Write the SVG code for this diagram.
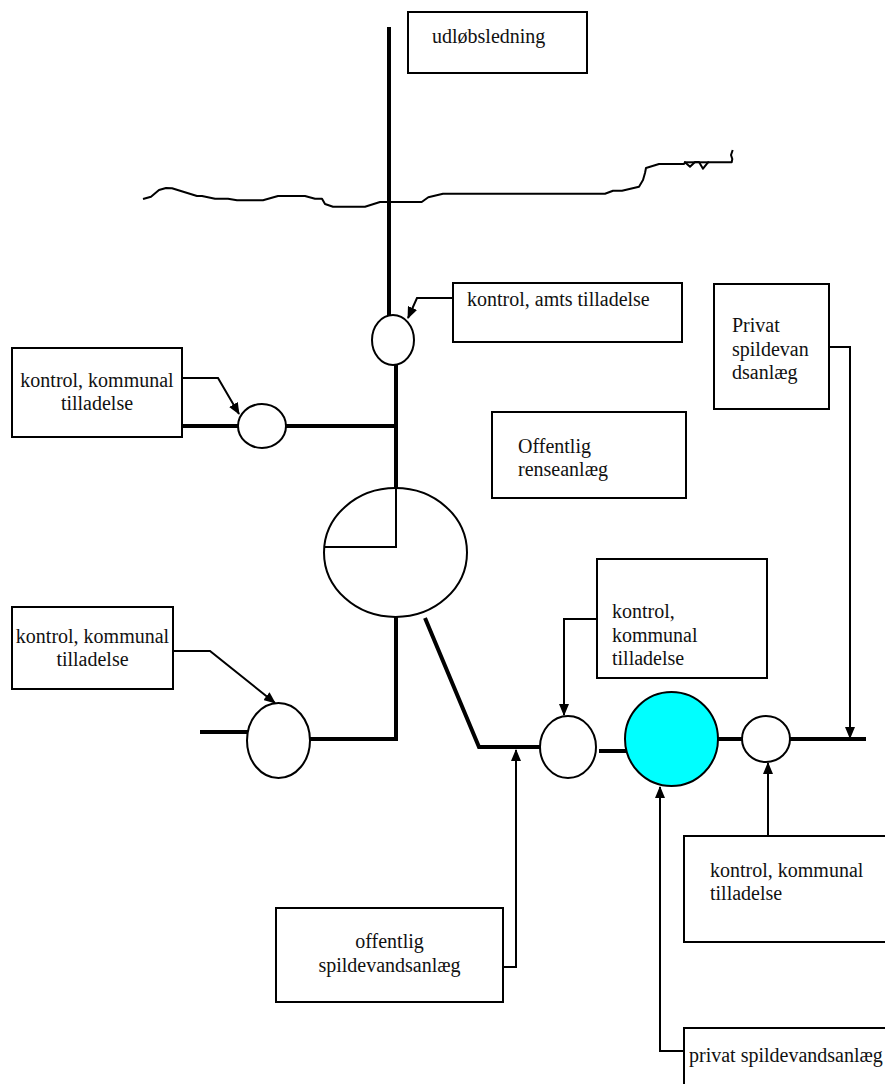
<svg xmlns="http://www.w3.org/2000/svg" width="885" height="1084" viewBox="0 0 885 1084">
<style>
.box{fill:#fff;stroke:#000;stroke-width:2}
.t{font-family:"Liberation Serif","Times New Roman",serif;font-size:20px;fill:#111}
.c{text-anchor:middle}
.pipe{fill:none;stroke:#000;stroke-width:4}
.thin{fill:none;stroke:#000;stroke-width:2}
.node{fill:#fff;stroke:#000;stroke-width:2}
.conn{fill:none;stroke:#000;stroke-width:2;marker-end:url(#ah)}
.river{fill:none;stroke:#000;stroke-width:2;stroke-linejoin:round}
</style>
<defs>
<marker id="ah" markerUnits="userSpaceOnUse" markerWidth="12" markerHeight="10" refX="11" refY="5" orient="auto">
<path d="M0,0 L12,5 L0,10 Z" fill="#000"/>
</marker>
</defs>
<rect width="885" height="1084" fill="#fff"/>

<g id="river">
<polyline class="river" points="143,199 151,196.7 159,190 166,188 172,188.3 197,196 202,196 215,198.7 228,198.7 237,200.3 263,200.3 278,196 305,196 315,198.7 322,198.7 325,204 333,206.7 365,206.7 380,202 421.7,202 428.3,197.3 443,193.7 605,193.7 613,190.7 622,190.7 639,186.7 643,180 645,173 646,168 659,164 684,164 685,162.3 690,166.7 695,162 699,162 703,168.7 708,162.3 731.7,162.3 732.3,159 731,155 732.7,150"/>
<line class="river" x1="684" y1="162.3" x2="709" y2="162.3"/>
</g>

<g id="pipes">
<line class="pipe" x1="389" y1="27" x2="389" y2="316"/>
<line class="pipe" x1="396" y1="365" x2="396" y2="489"/>
<line class="pipe" x1="182" y1="426" x2="239" y2="426"/>
<line class="pipe" x1="285" y1="426" x2="398" y2="426"/>
<polyline class="pipe" points="396,616 396,739 309,739"/>
<line class="pipe" x1="200" y1="732" x2="248" y2="732"/>
<polyline class="pipe" points="425,618 479,747 541,747"/>
<line class="pipe" x1="599" y1="751" x2="626" y2="751"/>
<line class="pipe" x1="717" y1="739" x2="745" y2="739"/>
<line class="pipe" x1="789" y1="739" x2="866" y2="739"/>
</g>

<g id="plant">
<ellipse class="node" cx="395.5" cy="552.5" rx="71.5" ry="64.5"/>
<polyline class="thin" points="396,488 396,547 324,547"/>
</g>
<g id="node-amts"><ellipse class="node" cx="393" cy="340" rx="21" ry="25"/></g>
<g id="node-left-top"><ellipse class="node" cx="262" cy="426" rx="24" ry="22"/></g>
<g id="node-left-bottom"><ellipse class="node" cx="278.5" cy="740.5" rx="31.5" ry="37.5"/></g>
<g id="node-mid"><ellipse class="node" cx="568" cy="747" rx="28" ry="31"/></g>
<g id="node-cyan"><ellipse cx="671.5" cy="739" rx="46.5" ry="47" fill="#00ffff" stroke="#000" stroke-width="2"/></g>
<g id="node-right"><ellipse class="node" cx="766" cy="739" rx="24" ry="23"/></g>

<g id="box-udlob">
<rect class="box" x="408" y="12" width="179" height="61"/>
<text class="t" x="432" y="43">udløbsledning</text>
</g>
<g id="box-amts">
<rect class="box" x="453" y="283" width="229" height="59"/>
<text class="t" x="467" y="306">kontrol, amts tilladelse</text>
</g>
<g id="box-left-top">
<rect class="box" x="12" y="348" width="170" height="89"/>
<text class="t c" x="97" y="387">kontrol, kommunal</text>
<text class="t c" x="97" y="410">tilladelse</text>
</g>
<g id="box-privat">
<rect class="box" x="714" y="284" width="115" height="125"/>
<text class="t" x="732" y="332">Privat</text>
<text class="t" x="732" y="356">spildevan</text>
<text class="t" x="732" y="379">dsanlæg</text>
</g>
<g id="box-offentlig-rense">
<rect class="box" x="492" y="412" width="194" height="86"/>
<text class="t" x="518" y="453">Offentlig</text>
<text class="t" x="518" y="476">renseanlæg</text>
</g>
<g id="box-left-bottom">
<rect class="box" x="12" y="607" width="161" height="82"/>
<text class="t c" x="92.5" y="643">kontrol, kommunal</text>
<text class="t c" x="92.5" y="666">tilladelse</text>
</g>
<g id="box-mid">
<rect class="box" x="597" y="559" width="170" height="119"/>
<text class="t" x="612" y="618">kontrol,</text>
<text class="t" x="612" y="642">kommunal</text>
<text class="t" x="612" y="665">tilladelse</text>
</g>
<g id="box-offentlig-spilde">
<rect class="box" x="276" y="908" width="227" height="94"/>
<text class="t c" x="389.5" y="948">offentlig</text>
<text class="t c" x="389.5" y="972">spildevandsanlæg</text>
</g>
<g id="box-right-bottom">
<rect class="box" x="684" y="836" width="220" height="106"/>
<text class="t" x="710" y="877">kontrol, kommunal</text>
<text class="t" x="710" y="900">tilladelse</text>
</g>
<g id="box-privat-spilde">
<rect class="box" x="684" y="1028" width="220" height="80"/>
<text class="t" x="689" y="1062">privat spildevandsanlæg</text>
</g>

<g id="connectors">
<polyline class="conn" points="453,298 417,298 408,318"/>
<polyline class="conn" points="182,378 218,378 239,414"/>
<polyline class="conn" points="173,651 210,651 275,703"/>
<polyline class="conn" points="597,619 564,619 564,715"/>
<polyline class="conn" points="829,347 850,347 850,738"/>
<polyline class="conn" points="503,967 516,967 516,750"/>
<polyline class="conn" points="684,1051 660,1051 660,787"/>
<polyline class="conn" points="768,836 768,763"/>
</g>
</svg>
